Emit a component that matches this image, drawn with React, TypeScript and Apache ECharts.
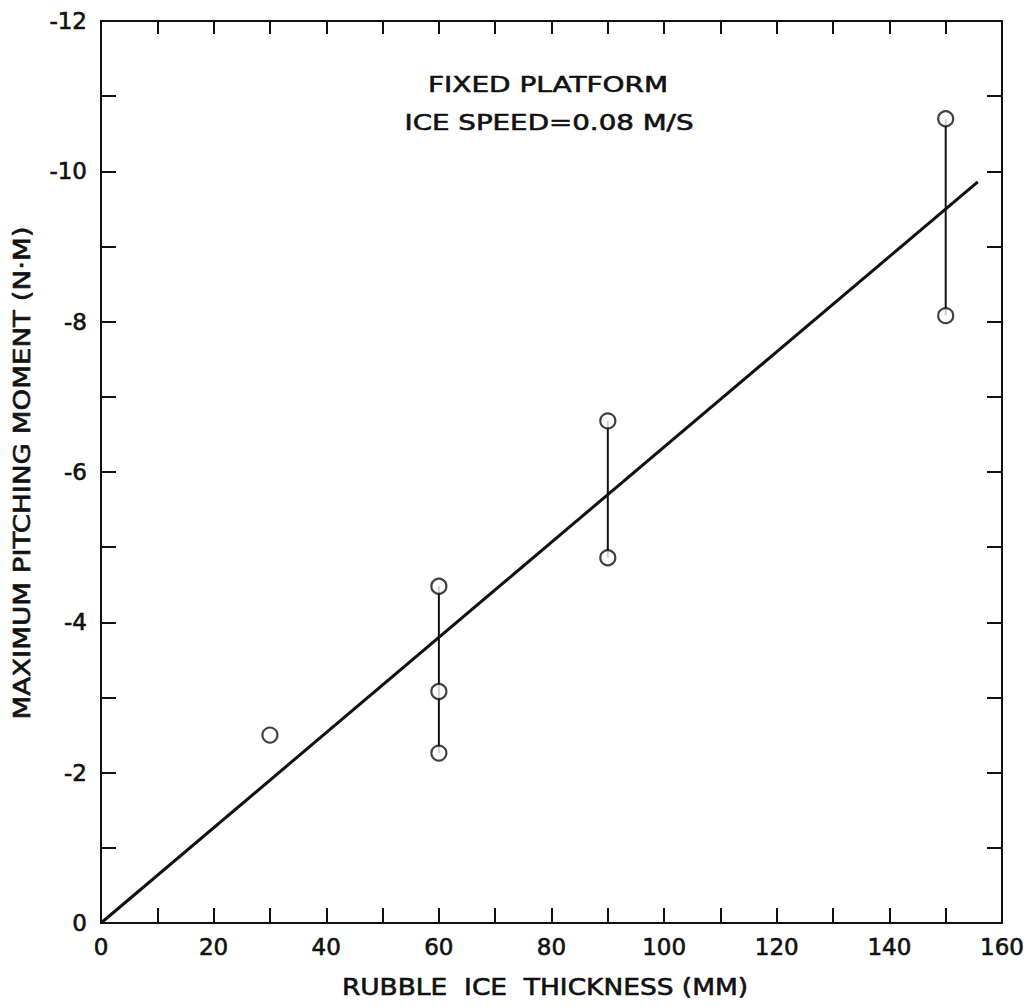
import React, { useEffect, useRef } from "react";
import * as echarts from "echarts";

// Measured data: rubble ice thickness (mm) vs maximum pitching moment (N·m)
const thickness = [30, 60, 60, 60, 90, 90, 150, 150];
const moment = [-2.5, -4.48, -3.08, -2.26, -6.68, -4.86, -10.7, -8.08];

// Range bars joining the repeated measurements
const rangeX = [60, 90, 150];
const rangeLow = [-2.26, -4.86, -8.08];
const rangeHigh = [-4.48, -6.68, -10.7];

// Fitted straight line
const fitX = [0, 155.7];
const fitY = [0, -9.86];

const titleLines = ["FIXED PLATFORM", "ICE SPEED=0.08 M/S"];
const xTitle = "RUBBLE  ICE  THICKNESS (MM)";
const yTitle = "MAXIMUM PITCHING MOMENT (N·M)";

const FONT = "DejaVu Sans";
const INK = "#111";

export default function App() {
  const ref = useRef<HTMLDivElement>(null);

  useEffect(() => {
    if (!ref.current) return;
    const chart = echarts.init(ref.current, undefined, { renderer: "svg" });

    const tickLine = { color: INK, width: 2 };
    const labelStyle = {
      show: true,
      fontSize: 23,
      color: INK,
      fontFamily: FONT,
      textBorderColor: INK,
      textBorderWidth: 0.6,
    };
    const baseX = {
      type: "value" as const,
      min: 0,
      max: 160,
      interval: 20,
      axisLine: { show: true, onZero: false, lineStyle: tickLine },
      splitLine: { show: false },
      minorSplitLine: { show: false },
    };
    const baseY = {
      type: "value" as const,
      min: -12,
      max: 0,
      interval: 2,
      inverse: true,
      axisLine: { show: true, onZero: false, lineStyle: tickLine },
      splitLine: { show: false },
      minorSplitLine: { show: false },
    };

    const rangeSeries = rangeX.map((x, i) => ({
      type: "line" as const,
      xAxisIndex: 0,
      yAxisIndex: 0,
      data: [
        [x, rangeLow[i]],
        [x, rangeHigh[i]],
      ],
      showSymbol: false,
      symbol: "none",
      lineStyle: { color: INK, width: 2 },
      z: 2,
    }));

    const textStyle = (text: string, size: number) => ({
      text,
      font: `${size}px "${FONT}"`,
      fill: INK,
      stroke: INK,
      lineWidth: 0.6,
      textAlign: "center",
      textVerticalAlign: "middle",
    });

    chart.setOption({
      animation: false,
      backgroundColor: "#fff",
      grid: { left: 101, right: 30, top: 21, bottom: 84, containLabel: false },
      xAxis: [
        {
          ...baseX,
          position: "bottom",
          axisTick: { show: true, inside: true, length: 15, lineStyle: tickLine },
          minorTick: { show: true, splitNumber: 2, length: 15, lineStyle: tickLine },
          axisLabel: { ...labelStyle, margin: 12 },
        },
        {
          ...baseX,
          position: "top",
          axisTick: { show: true, inside: true, length: 13, lineStyle: tickLine },
          minorTick: { show: true, splitNumber: 2, length: 13, lineStyle: tickLine },
          axisLabel: { show: false },
        },
      ],
      yAxis: [
        {
          ...baseY,
          position: "left",
          axisTick: { show: true, inside: true, length: 15, lineStyle: tickLine },
          minorTick: { show: true, splitNumber: 2, length: 15, lineStyle: tickLine },
          axisLabel: { ...labelStyle, margin: 14 },
        },
        {
          ...baseY,
          position: "right",
          axisTick: { show: true, inside: true, length: 15, lineStyle: tickLine },
          minorTick: { show: true, splitNumber: 2, length: 15, lineStyle: tickLine },
          axisLabel: { show: false },
        },
      ],
      series: [
        {
          type: "line",
          xAxisIndex: 0,
          yAxisIndex: 0,
          data: fitX.map((x, i) => [x, fitY[i]]),
          showSymbol: false,
          symbol: "none",
          lineStyle: { color: INK, width: 3 },
          z: 2,
        },
        ...rangeSeries,
        {
          type: "scatter",
          xAxisIndex: 0,
          yAxisIndex: 0,
          data: thickness.map((x, i) => [x, moment[i]]),
          symbol: "circle",
          symbolSize: 15,
          itemStyle: { color: "#fff", borderColor: INK, borderWidth: 2.2 },
          z: 5,
        },
      ],
      graphic: [
        { type: "text", x: 548, y: 85, scaleX: 1.27, style: textStyle(titleLines[0], 22) },
        { type: "text", x: 549, y: 123, scaleX: 1.26, style: textStyle(titleLines[1], 22) },
        { type: "text", x: 545, y: 987, scaleX: 1.15, style: textStyle(xTitle, 23) },
        {
          type: "text",
          x: 22,
          y: 473,
          rotation: Math.PI / 2,
          scaleX: 1.2,
          style: textStyle(yTitle, 23),
        },
      ],
    });

    return () => chart.dispose();
  }, []);

  return (
    <div
      ref={ref}
      style={{ position: "absolute", left: 0, top: 0, width: 1032, height: 1007, background: "#fff" }}
    />
  );
}
